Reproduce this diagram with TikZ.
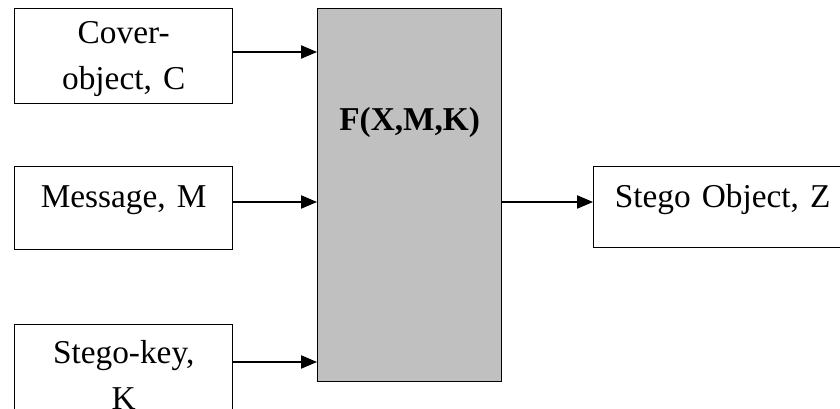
\documentclass[tikz,border=0pt]{standalone}
\usepackage{fontspec}
\setmainfont{Liberation Serif}
\usetikzlibrary{arrows.meta}

\definecolor{gris}{RGB}{192,192,192}

\begin{document}
\begin{tikzpicture}[x=0.75pt, y=-0.75pt,
        boite/.style={draw, line width=1pt, inner sep=0pt, anchor=north west, align=center,
            font=\fontsize{25}{34.5}\selectfont},
        fleche/.style={line width=0.8pt, -{Triangle[length=12pt, width=10pt]}}]
        \useasboundingbox (0,0) rectangle (840,409);
        \clip (0,0) rectangle (840,409);
        % les trois entrées à gauche
        \node[boite, text width=163.5pt, text height=26.25pt, text depth=45pt] (cover) at (14,8) {Cover-\\object, C};
        \node[boite, text width=163.5pt, text height=30.75pt, text depth=31.5pt] (message) at (14,166) {Message, M};
        \node[boite, text width=163.5pt, text height=29.25pt, text depth=52.5pt] (key) at (14,324) {Stego-key,\\K};
        % la fonction et la sortie
        \node[boite, fill=gris, text width=138pt, text height=91.5pt, text depth=188.25pt] (func) at (317,8) {\textbf{F(X,M,K)}};
        \node[boite, text width=193.5pt, text height=30.75pt, text depth=30pt] (stego) at (593,166) {Stego Object, Z};
        \foreach \source/\y in {cover/52, message/202, key/362} {
            \draw[fleche] (\source.east |- 0,\y) -- (func.west |- 0,\y);
        }
        \draw[fleche] (func.east |- 0,202) -- (stego.west |- 0,202);
    \end{tikzpicture}
\end{document}
